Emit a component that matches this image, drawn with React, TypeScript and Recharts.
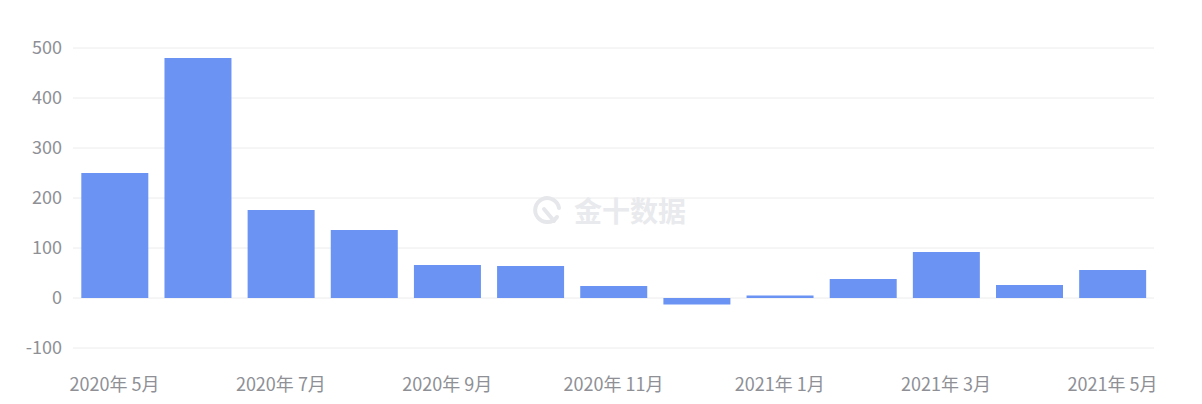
import { BarChart, Bar, XAxis, YAxis, CartesianGrid } from "recharts";

const months = [
  "2020年 5月",
  "2020年 6月",
  "2020年 7月",
  "2020年 8月",
  "2020年 9月",
  "2020年 10月",
  "2020年 11月",
  "2020年 12月",
  "2021年 1月",
  "2021年 2月",
  "2021年 3月",
  "2021年 4月",
  "2021年 5月",
];
const values = [250, 480, 176, 136, 66, 64, 24, -13, 5, 38, 92, 26, 56];
const yTicks = [-100, 0, 100, 200, 300, 400, 500];

const data = months.map((m, i) => ({ month: m, value: values[i] }));

const axisFont = { fill: "#8e9096", fontSize: 18, fontFamily: "'Noto Sans CJK SC', 'Noto Sans', sans-serif" };

export default function App() {
  return (
    <div style={{ position: "relative", width: 1202, height: 404, background: "#fff" }}>
      <style>{"body{margin:0}"}</style>
      <BarChart
        width={1202}
        height={404}
        data={data}
        margin={{ top: 48, right: 48, left: 0, bottom: 10 }}
        barCategoryGap="10%"
      >
        <CartesianGrid stroke="#ececec" vertical={false} />
        <XAxis
          dataKey="month"
          interval={1}
          axisLine={false}
          tickLine={false}
          tickSize={0}
          tickMargin={30}
          height={46}
          tick={axisFont}
        />
        <YAxis
          domain={[-100, 500]}
          ticks={yTicks}
          axisLine={false}
          tickLine={false}
          tickSize={0}
          tickMargin={11}
          width={73}
          tick={axisFont}
        />
        <Bar dataKey="value" fill="#6b93f4" isAnimationActive={false} />
      </BarChart>
      {/* watermark */}
      <div
        style={{
          position: "absolute",
          left: 530,
          top: 190,
          display: "flex",
          alignItems: "center",
          gap: 10,
          color: "#e9eaed",
          fontFamily: "'Noto Sans CJK SC', sans-serif",
          fontWeight: 700,
          fontSize: 28,
          pointerEvents: "none",
        }}
      >
        <svg width={34} height={34} viewBox="0 0 34 34">
          <path
            d="M 27 24 A 12 12 0 1 1 29 15"
            fill="none"
            stroke="#e6e7ea"
            strokeWidth={4}
            strokeLinecap="round"
          />
          <path d="M 14 16 L 24 28" stroke="#e6e7ea" strokeWidth={4} strokeLinecap="round" />
        </svg>
        <span>金十数据</span>
      </div>
    </div>
  );
}
